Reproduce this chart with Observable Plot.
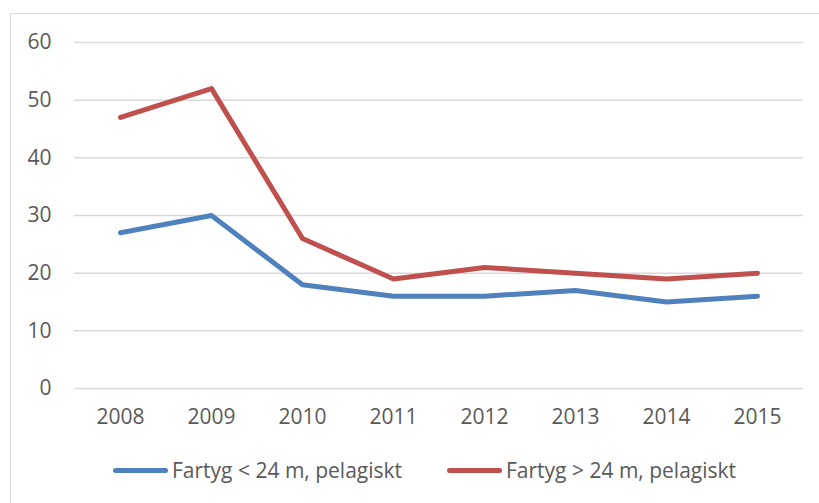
<!DOCTYPE html>
<html>
<head>
<meta charset="utf-8">
<script src="https://cdn.jsdelivr.net/npm/d3@7"></script>
<script src="https://cdn.jsdelivr.net/npm/@observablehq/plot@0.6"></script>
<style>
  html, body { margin: 0; padding: 0; background: #fff; }
  body { width: 819px; height: 503px; position: relative; overflow: hidden; font-family: "Open Sans", sans-serif; }
  #frame { position: absolute; left: 10px; top: 13px; width: 830px; height: 520px; border-left: 1.5px solid #d9d9d9; border-top: 1.5px solid #d9d9d9; }
  #chart { position: absolute; left: 0; top: 0; }
  #legend { position: absolute; left: 0; top: 456px; width: 819px; height: 30px; }
  .item { position: absolute; display: flex; align-items: center; font-size: 21px; color: #595959; white-space: nowrap; }
  .sw { width: 55px; height: 5px; border-radius: 3px; margin-right: 4px; }
</style>
</head>
<body>
<div id="frame"></div>
<div id="chart"></div>
<div id="legend"></div>
<script>
const years = ["2008", "2009", "2010", "2011", "2012", "2013", "2014", "2015"];
const small = [27, 30, 18, 16, 16, 17, 15, 16];
const large = [47, 52, 26, 19, 21, 20, 19, 20];
const seriesNames = ["Fartyg < 24 m, pelagiskt", "Fartyg > 24 m, pelagiskt"];
const seriesColors = ["#4F81BD", "#C0504D"];
const yTicks = [0, 10, 20, 30, 40, 50, 60];

const data = [];
years.forEach((y, i) => {
  data.push({ year: y, value: small[i], series: seriesNames[0] });
  data.push({ year: y, value: large[i], series: seriesNames[1] });
});

const plot = Plot.plot({
  width: 819,
  height: 420,
  marginTop: 42,
  marginBottom: 32,
  marginLeft: 74,
  marginRight: 16,
  style: { fontFamily: "Open Sans, sans-serif", fontSize: "21px", color: "#595959", background: "transparent", overflow: "visible" },
  x: { type: "point", domain: years, padding: 0.5, label: null },
  y: { domain: [0, 60], label: null },
  color: { domain: seriesNames, range: seriesColors },
  marks: [
    Plot.ruleY(yTicks, { stroke: "#d9d9d9", strokeWidth: 1.5 }),
    Plot.axisY(yTicks, { tickSize: 0, tickPadding: 23, label: null, fontSize: 21, fill: "#595959" }),
    Plot.axisX(years, { tickSize: 0, tickPadding: 21, label: null, fontSize: 21, fill: "#595959" }),
    Plot.line(data, { x: "year", y: "value", z: "series", stroke: "series", strokeWidth: 5, strokeLinecap: "round", strokeLinejoin: "round" })
  ]
});
document.getElementById("chart").appendChild(plot);

const legend = document.getElementById("legend");
const lefts = [113, 447];
seriesNames.forEach((name, i) => {
  const item = document.createElement("div");
  item.className = "item";
  item.style.left = lefts[i] + "px";
  const sw = document.createElement("div");
  sw.className = "sw";
  sw.style.background = seriesColors[i];
  const t = document.createElement("span");
  t.textContent = name;
  item.appendChild(sw);
  item.appendChild(t);
  legend.appendChild(item);
});
</script>
</body>
</html>
